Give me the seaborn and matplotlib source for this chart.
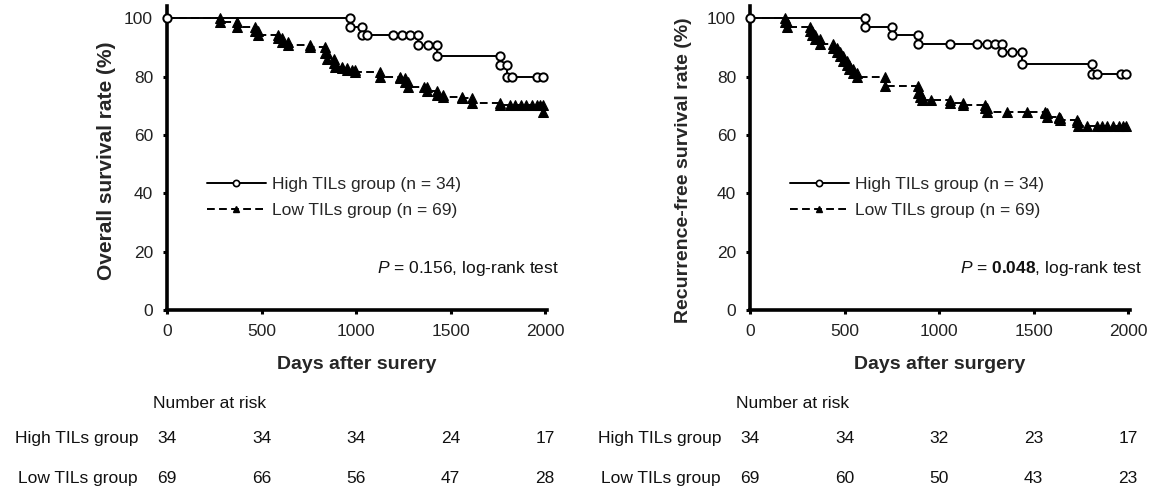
import matplotlib
matplotlib.use("Agg")
import matplotlib.pyplot as plt
import matplotlib.transforms as mtransforms
from matplotlib.lines import Line2D
import seaborn as sns

# Kaplan-Meier step points: (days, survival % after the step)
os_high_days = [0, 968, 1030, 1056, 1198, 1241, 1285, 1330, 1383, 1427, 1762, 1797, 1823, 1955, 1991]
os_high_surv = [100, 97.1, 94.1, 94.1, 94.1, 94.1, 94.1, 90.9, 90.9, 87.2, 84.0, 80.0, 80.0, 80.0, 80.0]

os_low_days = [0, 280, 372, 466, 483, 589, 607, 642, 757, 836, 845, 881, 889, 924, 951, 977, 995,
               1127, 1233, 1259, 1277, 1357, 1374, 1427, 1462, 1559, 1612, 1762, 1815, 1840, 1870,
               1900, 1930, 1955, 1973, 1990]
os_low_surv = [100, 98.6, 97.1, 95.7, 94.2, 93.1, 92.0, 90.9, 90.3, 88.0, 86.0, 84.6, 83.4, 82.9, 82.3,
               82.3, 81.7, 80.0, 79.4, 78.3, 76.6, 76.6, 74.9, 73.7, 73.1, 72.6, 70.9, 70.3, 70.3, 70.3,
               70.3, 70.3, 70.3, 70.3, 70.3, 68.0]

rfs_high_days = [0, 608, 750, 890, 1058, 1199, 1252, 1296, 1332, 1384, 1437, 1808, 1833, 1965, 1991]
rfs_high_surv = [100, 97.1, 94.1, 91.2, 91.2, 91.2, 91.2, 91.2, 88.3, 88.3, 84.2, 80.8, 80.8, 80.8, 80.8]

rfs_low_days = [0, 185, 194, 317, 330, 345, 370, 441, 458, 476, 490, 511, 525, 545, 564, 714, 890, 900,
                910, 960, 1058, 1128, 1243, 1252, 1357, 1463, 1560, 1569, 1632, 1640, 1728, 1737, 1781,
                1833, 1860, 1890, 1920, 1950, 1975, 1991]
rfs_low_surv = [100, 98.6, 97.1, 95.7, 94.2, 92.8, 91.3, 89.9, 88.4, 87.0, 85.5, 84.1, 82.6, 81.2, 79.7,
                76.8, 74.3, 73.1, 72.0, 72.0, 70.9, 70.3, 69.1, 68.0, 68.0, 68.0, 67.4, 66.3, 65.7, 65.1,
                64.6, 63.0, 63.0, 63.0, 63.0, 63.0, 63.0, 63.0, 63.0, 63.0]

risk_days = [0, 500, 1000, 1500, 2000]
os_risk_high = [34, 34, 34, 24, 17]
os_risk_low = [69, 66, 56, 47, 28]
rfs_risk_high = [34, 34, 32, 23, 17]
rfs_risk_low = [69, 60, 50, 43, 23]

high_label = "High TILs group (n = 34)"
low_label = "Low TILs group (n = 69)"


def km_vertices(days, surv):
    # add the top corner of every drop so the curve steps like the original
    xs, ys = [days[0]], [surv[0]]
    for t, s in zip(days[1:], surv[1:]):
        if s != ys[-1]:
            xs.append(t)
            ys.append(ys[-1])
        xs.append(t)
        ys.append(s)
    return xs, ys


sns.set_style("ticks")
plt.rcParams['font.family'] = ['Liberation Sans', 'DejaVu Sans']
plt.rcParams['mathtext.fontset'] = 'custom'
plt.rcParams['mathtext.rm'] = 'Liberation Sans'
plt.rcParams['mathtext.it'] = 'Liberation Sans:italic'
plt.rcParams['mathtext.bf'] = 'Liberation Sans:bold'

W, H = 1156, 492
fig = plt.figure(figsize=(W / 100, H / 100), dpi=100)
ax1 = fig.add_axes([167 / W, 1 - 310 / H, 380 / W, 304 / H])
ax2 = fig.add_axes([750 / W, 1 - 310 / H, 380 / W, 304 / H])

fs = 12.5
dash = (0, (4, 2.2))
panels = [
    (ax1, os_high_days, os_high_surv, os_low_days, os_low_surv, "Overall survival rate (%)", 15,
     "Days after surery", r"$\it{P}$ = 0.156, log-rank test", os_risk_high, os_risk_low, -0.134, 0.49),
    (ax2, rfs_high_days, rfs_high_surv, rfs_low_days, rfs_low_surv, "Recurrence-free survival rate (%)", 14,
     "Days after surgery", r"$\it{P}$ = $\bf{0.048}$, log-rank test", rfs_risk_high, rfs_risk_low, -0.153, 0.46),
]

for ax, hd, hs, ld, ls, ylab, yfs, xlab, ptxt, rh, rl, ylx, yly in panels:
    lx, ly = km_vertices(ld, ls)
    hx, hy = km_vertices(hd, hs)
    sns.lineplot(x=lx, y=ly, ax=ax, sort=False, estimator=None, color="black", lw=1.4,
                 dashes=False, linestyle=dash, marker="^", markersize=6.5,
                 markeredgecolor="black", markerfacecolor="black", markevery=list(range(1, len(lx))),
                 clip_on=False, zorder=3)
    sns.lineplot(x=hx, y=hy, ax=ax, sort=False, estimator=None, color="black", lw=1.4,
                 marker="o", markersize=6, markeredgecolor="black", markerfacecolor="white",
                 markeredgewidth=1.4, clip_on=False, zorder=4)

    ax.set_xlim(0, 2010)
    ax.set_ylim(0, 104.2)
    ax.set_xticks(risk_days)
    ax.set_yticks([0, 20, 40, 60, 80, 100])
    for side in ("top", "right"):
        ax.spines[side].set_visible(False)
    for side in ("left", "bottom"):
        ax.spines[side].set_linewidth(2.6)
        ax.spines[side].set_color("black")
    ax.tick_params(axis="both", direction="out", length=3, width=2.2, color="black",
                   labelsize=fs, pad=7, labelcolor="#222222")

    ax.set_ylabel(ylab, fontsize=yfs, fontweight="bold")
    ax.yaxis.set_label_coords(ylx, yly)
    ax.set_xlabel(xlab, fontsize=14, fontweight="bold")
    ax.xaxis.set_label_coords(0.5, -0.15)
    ax.xaxis.label.set_va("top")

    handles = [
        Line2D([], [], color="black", lw=1.4, marker="o", markersize=4.5, markerfacecolor="white",
               markeredgewidth=1.2),
        Line2D([], [], color="black", lw=1.4, linestyle=dash, marker="^", markersize=5),
    ]
    ax.legend(handles, [high_label, low_label], loc="upper left", bbox_to_anchor=(0.105, 0.439),
              frameon=False, fontsize=fs, handlelength=3.4, handletextpad=0.35, borderpad=0,
              borderaxespad=0, labelspacing=0.67)

    ax.text(0.553, 0.138, ptxt, transform=ax.transAxes, fontsize=fs, ha="left", va="center",
            color="#111111")

    # number at risk table under each panel
    col_tr = mtransforms.blended_transform_factory(ax.transData, fig.transFigure)
    lab_tr = mtransforms.blended_transform_factory(ax.transAxes, fig.transFigure)
    fig.text(-0.037, 1 - 404 / H, "Number at risk", transform=lab_tr, fontsize=fs,
             ha="left", va="center", color="#111111")
    fig.text(-0.076, 1 - 438.5 / H, "High TILs group", transform=lab_tr, fontsize=fs,
             ha="right", va="center", color="#111111")
    fig.text(-0.076, 1 - 478.5 / H, "Low TILs group", transform=lab_tr, fontsize=fs,
             ha="right", va="center", color="#111111")
    for d, a, b in zip(risk_days, rh, rl):
        fig.text(d, 1 - 438.5 / H, str(a), transform=col_tr, fontsize=fs, ha="center",
                 va="center", color="#111111")
        fig.text(d, 1 - 478.5 / H, str(b), transform=col_tr, fontsize=fs, ha="center",
                 va="center", color="#111111")

fig.savefig("out.png", dpi=100, facecolor="white")
